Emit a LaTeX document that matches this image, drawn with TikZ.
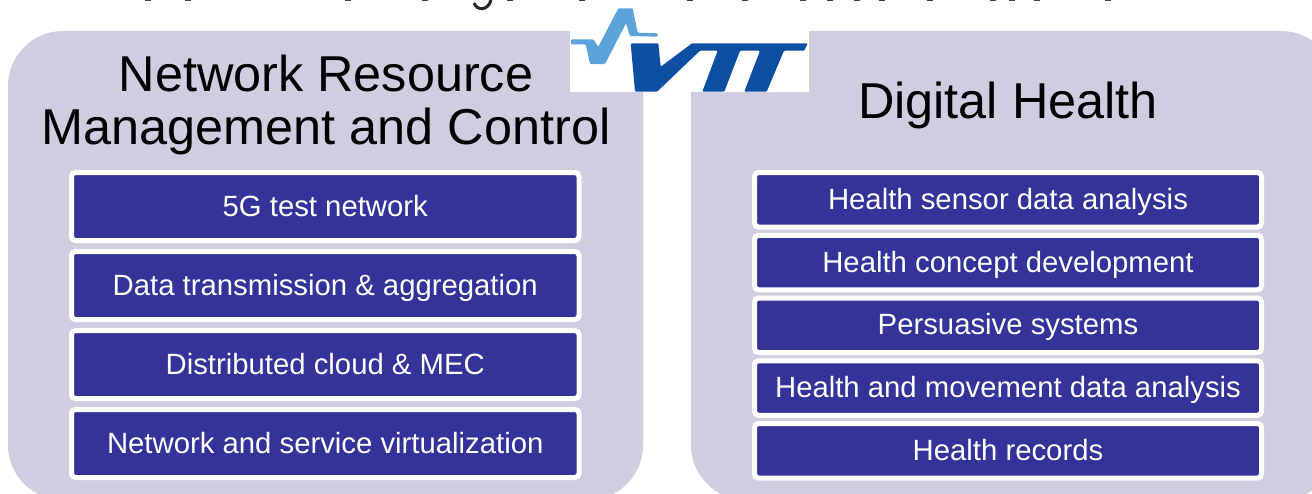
\documentclass[tikz,border=0pt]{standalone}
\usepackage{fontspec}
\setmainfont{Liberation Sans}
\definecolor{panelc}{HTML}{CECEE0}
\definecolor{boxc}{HTML}{333399}
\definecolor{logolight}{HTML}{5BA3D9}
\definecolor{logodark}{HTML}{0B4EA2}
\tikzset{
  panelshape/.style={fill=panelc,draw=none,rounded corners=55pt},
  headtext/.style={anchor=base,text=black,inner sep=0pt,font=\fontsize{50.4}{50.4}\selectfont},
  boxbase/.style={draw=white,line width=5pt,fill=boxc,rounded corners=4pt,text=white,inner sep=0pt,outer sep=0pt,font=\fontsize{29.3}{29.3}\selectfont,align=center,text height=19pt,text depth=0pt},
  leftbox/.style={boxbase,minimum width=507.5pt,minimum height=68pt},
  rightbox/.style={boxbase,minimum width=507pt,minimum height=54.5pt},
  titlefrag/.style={fill=black!75,draw=none}
}
\begin{document}
\begin{tikzpicture}[x=1pt,y=-1pt]
\clip (0,0) rectangle (1312,493);
\fill[white] (0,0) rectangle (1312,493);
% panels
\path[panelshape] (8,31) rectangle (643,500);
\path[panelshape] (691,31) rectangle (1336,500);
% title remnants
\foreach \xx in {148,188,348,425,510,582,690,745,803,830,857,882,930,993,1012,1037,1108}
  \fill[titlefrag] (\xx-3,0) rectangle (\xx+3,1);
\draw[black!85,line width=3pt] (474,3) .. controls (477,11) and (488,11) .. (491,0);
% logo
\fill[white] (570,31) rectangle (809,92);
\fill[logolight,rounded corners=1pt] (571,39.3) -- (593.3,39.3) -- (598.3,46.7) -- (618.3,8.3) -- (632.7,8.3) -- (637.7,32.7) -- (657.7,33.3) -- (657.7,36.7) -- (630,36) -- (626,23.3) -- (605,64) -- (590,64) -- (585.7,44.3) -- (571,44.3) -- cycle;
\fill[logodark,rounded corners=1pt] (630.7,43.3) -- (658.3,43.3) -- (660.7,66.7) -- (692,43.3) -- (807.7,43.3) -- (804.3,50.7) -- (784,50.7) -- (766.7,91.7) -- (744.3,91.7) -- (760,50.7) -- (740,50.7) -- (724.3,91.7) -- (702.3,91.7) -- (717.7,50.7) -- (700,50.7) -- (657,91.7) -- (635,91.7) -- cycle;
% headings
\node[headtext] (h1) at (326,91) {Network Resource};
\node[headtext] (h2) at (326,144) {Management and Control};
\node[headtext] (h3) at (1008,118) {Digital Health};
% left boxes
\node[leftbox] (l1) at (325.25,206.5) {5G test network};
\node[leftbox] (l2) at (325.25,285.5) {Data transmission \& aggregation};
\node[leftbox] (l3) at (325.25,364.5) {Distributed cloud \& MEC};
\node[leftbox] (l4) at (325.25,443.5) {Network and service virtualization};
% right boxes
\node[rightbox] (r1) at (1008,199.75) {Health sensor data analysis};
\node[rightbox] (r2) at (1008,262.5) {Health concept development};
\node[rightbox] (r3) at (1008,325.25) {Persuasive systems};
\node[rightbox] (r4) at (1008,388) {Health and movement data analysis};
\node[rightbox] (r5) at (1008,450.75) {Health records};
\end{tikzpicture}
\end{document}
